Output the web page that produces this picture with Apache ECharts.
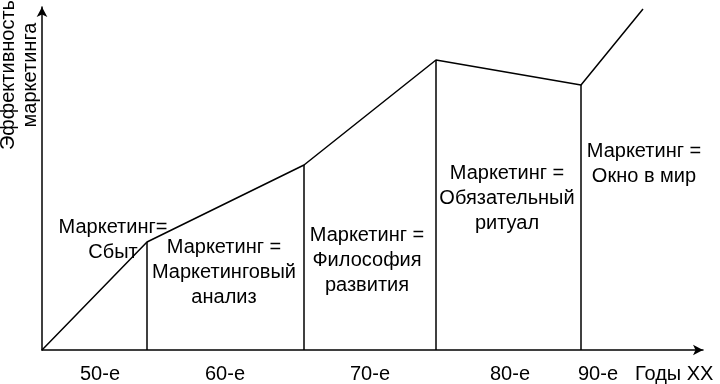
<!DOCTYPE html>
<html>
<head>
<meta charset="utf-8">
<script src="https://cdn.jsdelivr.net/npm/echarts@6/dist/echarts.min.js"></script>
<style>
html, body { margin: 0; padding: 0; background: #fff; }
#chart { width: 720px; height: 384px; }
</style>
</head>
<body>
<div id="chart"></div>
<script>
// ломаная эффективности (условные единицы по осям)
var lineX = [0, 105, 262, 394, 539, 601];
var lineY = [0, 108, 185, 290, 265, 341];

// подписи десятилетий под осью
var decadeLabels = ['50-е', '60-е', '70-е', '80-е', '90-е'];
var decadeX = [58, 183, 328, 468, 556];

// надписи этапов
var stageTexts = [
    'Маркетинг=\nСбыт',
    'Маркетинг =\nМаркетинговый\nанализ',
    'Маркетинг =\nФилософия\nразвития',
    'Маркетинг =\nОбязательный\nритуал',
    'Маркетинг =\nОкно в мир'
];
var stageX = [71, 182, 325, 465, 602];
var stageY = [110, 78, 90, 152, 186];

(function() {
    'use strict';

    var font = "'Liberation Sans', Arial, sans-serif";
    var ink = '#000';

    var lineData = [];
    for (var i = 0; i < lineX.length; i++) {
        lineData.push([lineX[i], lineY[i]]);
    }

    // вертикали от изломов до оси
    var vLines = [];
    for (var j = 1; j < lineX.length - 1; j++) {
        vLines.push([{coord: [lineX[j], 0]}, {coord: [lineX[j], lineY[j]]}]);
    }

    var stageData = [];
    for (var k = 0; k < stageTexts.length; k++) {
        stageData.push([stageX[k], stageY[k]]);
    }

    var option = {
        animation: false,
        backgroundColor: '#fff',
        grid: {left: 42, right: 17, top: 7, bottom: 34},
        xAxis: {
            type: 'value',
            min: 0,
            max: 661,
            axisLine: {
                show: true,
                symbol: ['none', 'arrow'],
                symbolSize: [8, 10],
                lineStyle: {color: ink, width: 1.5}
            },
            axisTick: {show: false},
            splitLine: {show: false},
            axisLabel: {
                customValues: decadeX,
                margin: 14,
                fontFamily: font,
                fontSize: 20,
                color: ink,
                formatter: function(v) {
                    var idx = decadeX.indexOf(v);
                    return idx >= 0 ? decadeLabels[idx] : '';
                }
            },
            name: 'Годы XX',
            nameLocation: 'end',
            nameGap: -68,
            nameTextStyle: {
                fontFamily: font,
                fontSize: 20,
                color: ink,
                align: 'left',
                verticalAlign: 'top',
                padding: [14, 0, 0, 0]
            }
        },
        yAxis: {
            type: 'value',
            min: 0,
            max: 343,
            axisLine: {
                show: true,
                symbol: ['none', 'arrow'],
                symbolSize: [8, 10],
                lineStyle: {color: ink, width: 1.5}
            },
            axisTick: {show: false},
            axisLabel: {show: false},
            splitLine: {show: false}
        },
        graphic: [{
            type: 'text',
            x: 19,
            y: 75,
            rotation: Math.PI / 2,
            style: {
                text: 'Эффективность\nмаркетинга',
                fontFamily: font,
                fontSize: 20,
                lineHeight: 22,
                fill: ink,
                align: 'center',
                verticalAlign: 'middle'
            }
        }],
        series: [{
            type: 'line',
            data: lineData,
            symbol: 'none',
            clip: false,
            lineStyle: {color: ink, width: 1.5},
            markLine: {
                silent: true,
                symbol: 'none',
                label: {show: false},
                lineStyle: {color: ink, width: 1.5, type: 'solid'},
                data: vLines
            }
        }, {
            type: 'scatter',
            data: stageData,
            symbolSize: 0,
            silent: true,
            itemStyle: {opacity: 1},
            label: {
                show: true,
                position: 'inside',
                fontFamily: font,
                fontSize: 20,
                lineHeight: 25,
                color: '#000',
                opacity: 1,
                align: 'center',
                formatter: function(p) {
                    return stageTexts[p.dataIndex];
                }
            }
        }]
    };

    var chart = echarts.init(document.getElementById('chart'));
    chart.setOption(option);
})();
</script>
</body>
</html>
